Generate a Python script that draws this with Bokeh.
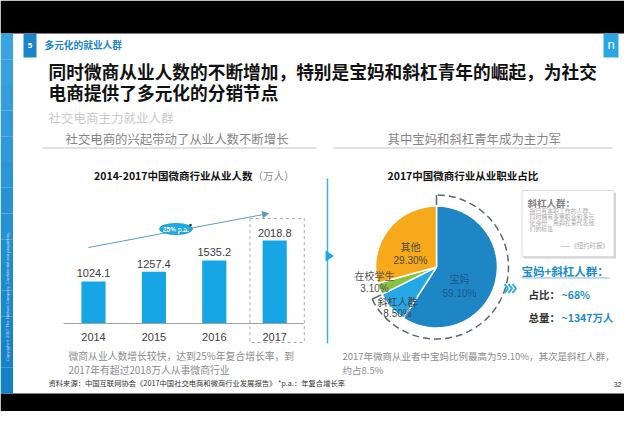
import numpy as np
from bokeh.plotting import figure
from bokeh.models import Range1d, Arrow, NormalHead
from bokeh.core.properties import value
from bokeh.embed import file_html
from bokeh.resources import INLINE

# ---------------- data ----------------
years = [2014, 2015, 2016, 2017]
year_labels = ["2014", "2015", "2016", "2017"]
workers = [1024.1, 1257.4, 1535.2, 2018.8]          # 万人
worker_labels = ["1024.1", "1257.4", "1535.2", "2018.8"]
cagr_label = "25% p.a."

occupations = ["宝妈", "斜杠人群", "在校学生", "其他"]
shares = [59.10, 8.50, 3.10, 29.30]
share_labels = ["59.10%", "8.50%", "3.10%", "29.30%"]
occ_colors = ["#1f86c6", "#27a8e6", "#86c440", "#f6a91a"]
key_share = "~68%"
key_total = "~1347万人"

# ---------------- canvas ----------------
W, H = 624, 411
X0, Y0 = 0, 0
CJK = "Noto Sans CJK SC"
LAT = "Liberation Sans"

p = figure(width=W, height=H, output_backend="svg", toolbar_location=None,
           x_range=Range1d(X0, X0 + W), y_range=Range1d(Y0 + H, Y0),
           x_axis_location=None, y_axis_location=None, min_border=0)
p.xgrid.visible = False
p.ygrid.visible = False
p.outline_line_color = None
p.background_fill_color = "white"
p.border_fill_color = "white"


def txt(x, y, s, size, color, align="left", bold=False, font=CJK,
        baseline="middle", angle=0.0, alpha=1.0):
    p.text(x=[x], y=[y], text=[s], text_font=value(font),
           text_font_size=f"{size}px", text_color=color, text_align=align,
           text_baseline=baseline, text_font_style="bold" if bold else "normal",
           angle=angle, text_alpha=alpha)


# black bands
p.quad(left=[X0, X0], right=[X0 + W, X0 + W], top=[Y0, 393], bottom=[33, Y0 + H],
       fill_color="black", line_color=None)

# left sidebar gradient
n = 14
c0 = np.array([0x3b, 0xa3, 0xe0]); c1 = np.array([0x14, 0x80, 0xc6])
edges = np.linspace(33, 393, n + 1)
cols = ["#%02x%02x%02x" % tuple((c0 + (c1 - c0) * i / (n - 1)).astype(int)) for i in range(n)]
p.quad(left=X0, right=12.5, top=edges[:-1], bottom=edges[1:], fill_color=cols, line_color=None)
txt(6.5, 296, "Copyright © 2017 The Nielsen Company. Confidential and proprietary.",
    4.2, "white", align="center", font=LAT, angle=np.pi / 2, alpha=0.75)

# header
p.quad(left=[23], right=[36], top=[33], bottom=[57], fill_color="#1a86c8", line_color=None)
txt(29.5, 45, "5", 8, "white", align="center", bold=True, font=LAT)
txt(44, 44.5, "多元化的就业人群", 9.7, "#1a86c8", bold=True)
p.quad(left=[603], right=[618], top=[33], bottom=[57], fill_color="#2aa6e0", line_color=None)
txt(610.5, 44, "n", 13, "white", align="center", font=LAT)

txt(48, 70, "同时微商从业人数的不断增加，特别是宝妈和斜杠青年的崛起，为社交", 17.7, "#111111", bold=True)
txt(48, 91, "电商提供了多元化的分销节点", 17.7, "#111111", bold=True)
txt(48, 117, "社交电商主力就业人群", 12.5, "#c9c9c9")

# section headers
txt(65, 138, "社交电商的兴起带动了从业人数不断增长", 12.4, "#858585")
txt(387, 138, "其中宝妈和斜杠青年成为主力军", 12.4, "#858585")
p.segment(x0=[42, 333], y0=[147.5, 147.5], x1=[316, 612], y1=[147.5, 147.5],
          line_color="#c4c4c4", line_width=1)

# ---------------- bar chart ----------------
BAR_BASE = 323.0
BAR_TOP = 240.0
k = (BAR_BASE - BAR_TOP) / max(workers)
vs = -(Y0 + H - BAR_BASE) / k
p.extra_y_ranges = {"val": Range1d(vs, vs + H / k)}
YEAR0_PX, YEAR_STEP = 93.0, 60.4
ys = years[0] - (YEAR0_PX - X0) / YEAR_STEP
p.extra_x_ranges = {"yr": Range1d(ys, ys + W / YEAR_STEP)}

txt(252, 175, "2014-2017中国微商行业从业人数", 10.5, "#111111", align="right", bold=True)
txt(252, 175, "（万人）", 10.5, "#8a8a8a")

# dashed highlight for 2017
p.quad(left=[years[-1] - 0.41], right=[years[-1] + 0.49], top=[218], bottom=[342],
       x_range_name="yr", fill_color=None, line_color="#a8a8a8", line_dash="3 3", line_width=1)

p.vbar(x=years, top=workers, bottom=0, width=0.4, x_range_name="yr", y_range_name="val",
       fill_color="#16a6e6", line_color=None)
p.text(x=years, y=workers, text=worker_labels, x_range_name="yr", y_range_name="val",
       text_font=value(LAT), text_font_size="11px", text_color="#404040",
       text_align="center", text_baseline="bottom", y_offset=-4)
p.text(x=years, y=[0] * len(years), text=year_labels, x_range_name="yr", y_range_name="val",
       text_font=value(LAT), text_font_size="11px", text_color="#404040",
       text_align="center", text_baseline="middle", y_offset=13)
p.segment(x0=[63], y0=[BAR_BASE], x1=[303], y1=[BAR_BASE], line_color="#a0a0a0", line_width=1)

# growth arrow + ellipse
ac = "#5d9cb5"
p.add_layout(Arrow(end=NormalHead(size=6, fill_color=ac, line_color=ac),
                   x_start=88, y_start=247, x_end=268, y_end=213,
                   line_color=ac, line_width=1))
p.ellipse(x=[175.5], y=[228.5], width=33, height=11, fill_color="#19aee8",
          line_color="#0e90c8", line_width=0.8)
p.scatter(x=[190], y=[224.5], size=2.5, fill_color="#222", line_color=None)
txt(175.5, 228.8, cagr_label, 6.5, "white", align="center", bold=True, font=LAT)

# vertical divider + triangle
p.segment(x0=[327], y0=[178], x1=[327], y1=[343], line_color="#3fb0e0", line_width=1.5)
p.patch(x=[325, 333.5, 325], y=[250, 255.5, 261], fill_color="#1ea7e1", line_color=None)

# left commentary
txt(68, 355, "微商从业人数增长较快，达到25%年复合增长率，到", 9.8, "#8c8c8c")
txt(68, 369, "2017年有超过2018万人从事微商行业", 9.8, "#8c8c8c")

# ---------------- pie ----------------
PIE_X, PIE_Y, PIE_R = 436.0, 266.5, 61.0
txt(387, 175, "2017中国微商行业从业职业占比", 10.5, "#111111", bold=True)

fr = np.array(shares) / sum(shares)
cum = np.concatenate([[0.0], np.cumsum(fr)])
bounds = np.pi / 2 - 2 * np.pi * cum
p.wedge(x=PIE_X, y=PIE_Y, radius=PIE_R, start_angle=bounds[1:], end_angle=bounds[:-1],
        direction="anticlock", fill_color=occ_colors, line_color="white", line_width=1.5)

# dashed bracket arc around 宝妈 + 斜杠人群
ARC_R = 72.0
p.arc(x=PIE_X, y=PIE_Y, radius=ARC_R, start_angle=bounds[2], end_angle=bounds[0],
      direction="anticlock", line_color="#5a6670", line_width=1.5, line_dash="7 4")
for a in (bounds[0], bounds[2]):
    p.segment(x0=[PIE_X + ARC_R * np.cos(a)], y0=[PIE_Y - ARC_R * np.sin(a)],
              x1=[PIE_X + 62 * np.cos(a)], y1=[PIE_Y - 62 * np.sin(a)],
              line_color="#5a6670", line_width=1.5)

# pie labels
label_pos = {"宝妈": (459, 278, 292.5, "#1a5a8a"),
             "斜杠人群": (397, 301, 313, "#444444"),
             "在校学生": (374, 275, 287.5, "#555555"),
             "其他": (410, 246, 259.5, "#4a4a4a")}
for name, sl in zip(occupations, share_labels):
    lx, ly1, ly2, lc = label_pos[name]
    txt(lx, ly1, name, 10, lc, align="center")
    txt(lx, ly2, sl, 10, lc, align="center", font=LAT)

# definition box
p.quad(left=[523.5], right=[615.5], top=[192], bottom=[258], fill_color="#c8c8c8",
       line_color=None, fill_alpha=0.8)
p.quad(left=[521.5], right=[613.5], top=[190], bottom=[256], fill_color="white",
       line_color="#dddddd", line_width=1)
txt(527, 202, "斜杠人群：", 9.5, "#808080", bold=True)
box_lines = ["指已有本职工作的人群，", "同时拥有多重职业和多元", "化身份，用斜杠来代表他", "们的标签"]
for i, s in enumerate(box_lines):
    txt(529, 209.5 + 6.1 * i, s, 5.9, "#a9a9a9")
txt(608, 244.5, "——《纽约时报》", 6.3, "#a9a9a9", align="right")

# key figures
txt(521, 270, "宝妈+斜杠人群：", 11.5, "#1e8cc8", bold=True)
p.segment(x0=[521], y0=[277.5], x1=[609], y1=[277.5], line_color="#a9d2ea", line_width=1.5)
for i in range(3):
    p.line(x=[504 + 4 * i, 507.5 + 4 * i, 504 + 4 * i], y=[283.5, 288, 292.5],
           line_color="#29abe2", line_width=2)
txt(528, 294, "占比：", 10.5, "#333333", bold=True)
txt(561, 294, key_share, 10.5, "#1e8cc8", bold=True)
txt(528, 316.5, "总量：", 10.5, "#333333", bold=True)
txt(561, 316.5, key_total, 10.5, "#1e8cc8", bold=True)

txt(342, 355, "2017年微商从业者中宝妈比例最高为59.10%，其次是斜杠人群，", 9.5, "#8c8c8c")
txt(342, 369, "约占8.5%", 9.5, "#8c8c8c")

# footer
txt(48, 382, "资料来源：中国互联网协会《2017中国社交电商和微商行业发展报告》 *p.a.：年复合增长率",
    7.3, "#333333")
txt(621, 384, "32", 7, "#333333", align="right", font=LAT)

open("out.html", "w").write(file_html(p, INLINE))
